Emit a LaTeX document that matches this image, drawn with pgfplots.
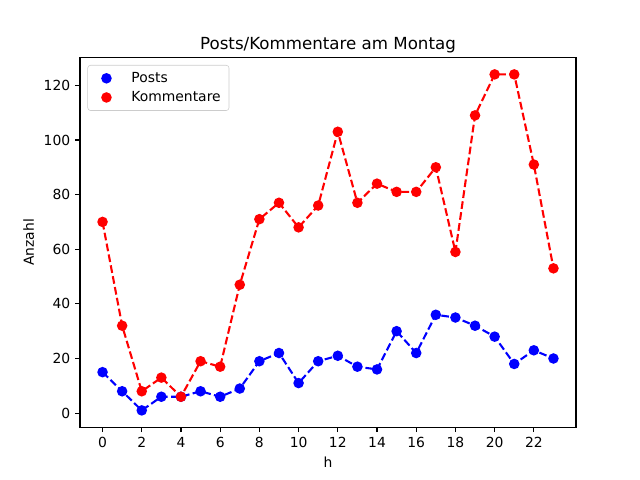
\documentclass[border=0pt]{standalone}
\usepackage{pgfplots}
\pgfplotsset{compat=1.18}
\usepackage{fontspec}
\setmainfont{DejaVu Sans}
\begin{document}
\begin{tikzpicture}
\begin{axis}[
  scale only axis,
  width=357.12pt, height=266.11pt,
  xmin=-1.15, xmax=24.15,
  ymin=-5.15, ymax=130.15,
  xtick={0,2,...,22},
  ytick={0,20,...,120},
  tick align=outside,
  major tick length=3.5pt,
  tick style={black, line width=0.8pt},
  xtick pos=bottom, ytick pos=left,
  axis line style={line width=0.8pt},
  /pgf/number format/assume math mode=true,
  tick label style={font=\fontsize{10}{12}\selectfont},
  label style={font=\fontsize{10}{12}\selectfont},
  xlabel={h}, ylabel={Anzahl},
  title={Posts/Kommentare am Montag},
  every axis title shift=0pt,
  title style={font=\fontsize{12}{14}\selectfont, at={(0.5,1)}, anchor=base, yshift=5.8pt, inner sep=0pt},
  legend style={font=\fontsize{10}{12}\selectfont, draw=gray!40, rounded corners=2pt, at={(0.015,0.98)}, anchor=north west, row sep=1pt, inner xsep=4pt, inner ysep=3pt},
  legend cell align=left,
  legend image code/.code={\path[draw=none, fill=none] (0pt,-3pt) rectangle (25.5pt,3pt); \draw[#1, solid, mark repeat=1] plot[only marks] coordinates {(9.5pt,0pt)};},
]
\addplot[blue, line width=1.5pt, dash pattern=on 5.55pt off 2.4pt, mark=*, mark size=3pt, mark options={solid, fill=blue, draw=blue}] coordinates {
(0,15)(1,8)(2,1)(3,6)(4,6)(5,8)(6,6)(7,9)(8,19)(9,22)(10,11)(11,19)(12,21)(13,17)(14,16)(15,30)(16,22)(17,36)(18,35)(19,32)(20,28)(21,18)(22,23)(23,20)};
\addlegendentry{Posts}
\addplot[red, line width=1.5pt, dash pattern=on 5.55pt off 2.4pt, mark=*, mark size=3pt, mark options={solid, fill=red, draw=red}] coordinates {
(0,70)(1,32)(2,8)(3,13)(4,6)(5,19)(6,17)(7,47)(8,71)(9,77)(10,68)(11,76)(12,103)(13,77)(14,84)(15,81)(16,81)(17,90)(18,59)(19,109)(20,124)(21,124)(22,91)(23,53)};
\addlegendentry{Kommentare}
\end{axis}
\path (current axis.south west) ++(-57.6pt,-38.02pt) coordinate (A);
\path (current axis.north east) ++(46.08pt,41.47pt) coordinate (B);
\useasboundingbox (A) rectangle (B);
\end{tikzpicture}
\end{document}
